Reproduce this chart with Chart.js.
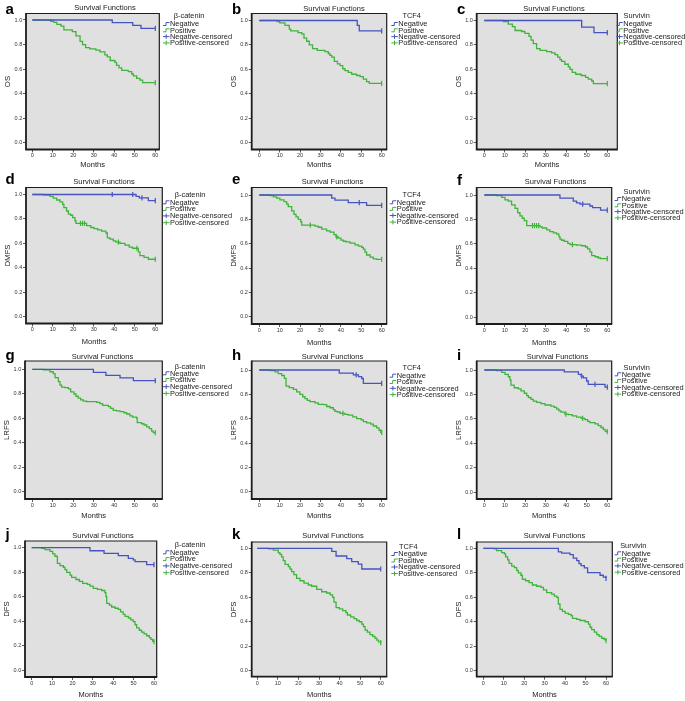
<!DOCTYPE html>
<html><head><meta charset="utf-8">
<script src="https://cdn.jsdelivr.net/npm/chart.js@4"></script>
<style>
html,body{margin:0;padding:0;background:#fff;width:685px;height:701px;overflow:hidden}
canvas{position:absolute;left:0;top:0}
</style></head>
<body>
<script>
// ---------- labels ----------
const monthTicks = [0,10,20,30,40,50,60];
const survTicks = [0,0.2,0.4,0.6,0.8,1.0];
const markers = ['β-catenin','TCF4','Survivin'];
const endpoints = ['OS','DMFS','LRFS','DFS'];
const seriesNames = ['Negative','Positive','Negative-censored','Positive-censored'];
const panelLetters = ['a','b','c','d','e','f','g','h','i','j','k','l'];
const chartTitle = 'Survival Functions';
const xTitle = 'Months';

// ---------- data: [month, survival] ----------
const a_neg = [[0,1],[39,0.978],[49,0.957],[53,0.932],[60,0.932]];
const a_pos = [[0,1],[9,0.99],[10.5,0.98],[12,0.965],[14,0.95],[15.4,0.92],[19.5,0.905],[21.3,0.87],[23.3,0.825],[24.5,0.8],[26,0.775],[28,0.765],[31,0.755],[33,0.74],[35.4,0.715],[36.6,0.7],[38,0.67],[40.3,0.655],[41.1,0.63],[42.3,0.61],[43.6,0.59],[46.8,0.58],[48.5,0.56],[49.3,0.545],[50.9,0.525],[52.5,0.51],[53.8,0.49],[60,0.49]];
const a_negC = [[60,0.932]];
const a_posC = [[60,0.49]];

const b_neg = [[0,1],[48,0.96],[49,0.915],[60,0.915]];
const b_pos = [[0,1],[8.8,0.99],[10,0.98],[12.6,0.96],[14.7,0.93],[15.4,0.915],[19,0.9],[20.8,0.89],[21.9,0.855],[23.2,0.83],[24.5,0.8],[26.1,0.77],[28.4,0.755],[32.2,0.745],[33.8,0.73],[34.6,0.715],[35.5,0.7],[36.8,0.665],[38.3,0.645],[39.6,0.63],[40.9,0.605],[42,0.59],[43.6,0.575],[45.3,0.56],[47.7,0.55],[49.4,0.54],[51,0.52],[52.6,0.5],[53.9,0.486],[60,0.486]];
const b_negC = [[60,0.915]];
const b_posC = [[60,0.486]];

const c_neg = [[0,1],[47.5,0.945],[53.5,0.9],[60,0.9]];
const c_pos = [[0,1],[9.3,0.99],[11.7,0.97],[13.7,0.95],[15,0.918],[18.2,0.91],[19.8,0.895],[21.8,0.87],[22.8,0.84],[23.9,0.81],[25.5,0.77],[27.2,0.755],[30.4,0.745],[32.8,0.735],[34.5,0.72],[35.8,0.7],[36.9,0.68],[37.7,0.665],[39.3,0.642],[41,0.62],[41.8,0.6],[42.9,0.575],[44.6,0.56],[47.2,0.55],[49.4,0.535],[50.7,0.52],[52.4,0.505],[53.2,0.483],[60,0.483]];
const c_negC = [[60,0.9]];
const c_posC = [[60,0.483]];

const d_neg = [[0,1],[50.6,0.985],[52.2,0.972],[56.6,0.95],[60,0.95]];
const d_pos = [[0,1],[5.4,0.995],[8.6,0.985],[10.2,0.97],[11.9,0.955],[13.5,0.94],[14.8,0.92],[15.4,0.893],[16.7,0.865],[17.6,0.84],[18.7,0.83],[19.7,0.81],[20.8,0.785],[21.3,0.763],[26.5,0.745],[28.5,0.73],[30.1,0.72],[31.9,0.71],[33.8,0.7],[35.9,0.685],[36.6,0.645],[37.9,0.635],[39.5,0.62],[40.8,0.61],[42.8,0.6],[45.2,0.585],[47.3,0.57],[48.9,0.56],[51.7,0.53],[52.5,0.5],[54.5,0.485],[56.6,0.47],[60,0.47]];
const d_negC = [[39,1],[49,1],[53.5,0.972],[60,0.95]];
const d_posC = [[23.5,0.763],[24.5,0.763],[25.5,0.763],[42,0.61],[51,0.56],[60,0.47]];

const e_neg = [[0,1],[35.5,0.975],[37.1,0.958],[43.6,0.937],[52.6,0.915],[60,0.915]];
const e_pos = [[0,1],[5.2,0.995],[6.9,0.985],[8.5,0.975],[10.1,0.96],[12.1,0.945],[13.4,0.925],[14.2,0.905],[15.9,0.87],[17,0.841],[18,0.82],[19.1,0.8],[20.3,0.78],[20.8,0.753],[27.3,0.745],[28.9,0.735],[30.6,0.72],[33,0.705],[34.7,0.695],[36.6,0.675],[37.6,0.655],[38.8,0.645],[40,0.63],[41.2,0.62],[42.5,0.615],[44.5,0.605],[46.9,0.59],[48.6,0.58],[50.2,0.57],[51,0.555],[51.8,0.53],[52.6,0.507],[54.3,0.49],[55.9,0.475],[57.5,0.471],[60,0.471]];
const e_negC = [[49,0.937],[60,0.915]];
const e_posC = [[25,0.753],[38,0.655],[60,0.471]];

const f_neg = [[0,1],[36.9,0.975],[43.4,0.95],[45,0.935],[46.7,0.925],[51.5,0.91],[52.8,0.896],[56.7,0.877],[60,0.877]];
const f_pos = [[0,1],[6,0.995],[8.5,0.98],[10.1,0.96],[11.7,0.95],[13.3,0.92],[15,0.891],[16.3,0.855],[17.4,0.83],[18.5,0.81],[19.5,0.79],[20.7,0.749],[27.2,0.74],[28.3,0.73],[30.4,0.715],[32,0.7],[33.7,0.69],[35.3,0.68],[36.4,0.66],[36.9,0.64],[37.7,0.63],[39,0.62],[40.7,0.605],[41.8,0.594],[45,0.59],[47.5,0.585],[49.4,0.575],[50.4,0.56],[51.5,0.535],[52.4,0.505],[54,0.495],[55.6,0.485],[56.8,0.48],[60,0.48]];
const f_negC = [[48,0.925],[60,0.877]];
const f_posC = [[23.5,0.749],[24.5,0.749],[25.5,0.749],[26.5,0.749],[43,0.594],[60,0.48]];

const g_neg = [[0,1],[29.8,0.975],[35.9,0.95],[42.8,0.93],[49.3,0.907],[60,0.907]];
const g_pos = [[0,1],[5.4,0.995],[8.6,0.98],[10.2,0.965],[11.1,0.932],[12.7,0.9],[13.5,0.87],[14.3,0.855],[15.9,0.85],[17.6,0.84],[18.7,0.815],[20.3,0.798],[21.3,0.78],[22.4,0.765],[23.6,0.75],[24.9,0.74],[26.5,0.736],[31.4,0.73],[33,0.72],[34.3,0.706],[37.1,0.695],[38.2,0.68],[39.5,0.665],[41.1,0.66],[42.8,0.655],[44.7,0.645],[46,0.635],[47.6,0.62],[48.9,0.61],[50.9,0.6],[51.2,0.564],[53.3,0.555],[54.5,0.545],[55.8,0.53],[57.1,0.515],[58.2,0.495],[59,0.482],[60,0.482]];
const g_negC = [[60,0.907]];
const g_posC = [[60,0.482]];

const h_neg = [[0,1],[39.2,0.975],[46.1,0.96],[48.6,0.945],[50.2,0.93],[51,0.89],[60,0.89]];
const h_pos = [[0,1],[5.2,0.995],[7.7,0.985],[9.3,0.97],[11,0.955],[12.3,0.932],[13.1,0.868],[14.7,0.855],[16.7,0.84],[18.3,0.82],[19.9,0.8],[21.3,0.78],[22.4,0.765],[23.5,0.75],[24.8,0.74],[27.3,0.73],[28.9,0.718],[31.4,0.715],[33,0.7],[34.7,0.69],[36.3,0.675],[37.1,0.66],[38.3,0.655],[39.6,0.644],[42,0.635],[43.6,0.63],[45.8,0.615],[47.7,0.6],[49.9,0.59],[51,0.575],[52.6,0.565],[54.6,0.555],[55.9,0.54],[57.5,0.525],[58.7,0.505],[59.5,0.488],[60,0.488]];
const h_negC = [[47.5,0.96],[60,0.89]];
const h_posC = [[41,0.644],[60,0.488]];

const i_neg = [[0,1],[39,0.985],[45.9,0.965],[47.2,0.95],[48.3,0.935],[49.9,0.91],[50.7,0.883],[58.9,0.86],[60,0.86]];
const i_pos = [[0,1],[6,0.995],[8.5,0.98],[10.1,0.965],[11.7,0.945],[12.5,0.92],[13,0.877],[14.6,0.855],[16.6,0.845],[17.9,0.83],[19.5,0.81],[20.7,0.79],[21.5,0.775],[22.8,0.76],[23.9,0.745],[25.5,0.735],[27.6,0.725],[29.6,0.714],[32.5,0.705],[34.1,0.695],[35.3,0.68],[36.4,0.665],[37.4,0.655],[39.3,0.64],[41,0.635],[42.9,0.625],[45,0.615],[47.2,0.605],[49.1,0.595],[50.4,0.58],[51.5,0.57],[54,0.56],[55.6,0.545],[56.9,0.53],[58,0.515],[58.9,0.5],[59.5,0.496],[60,0.496]];
const i_negC = [[47.5,0.95],[54,0.883],[60,0.86]];
const i_posC = [[39.8,0.64],[48,0.605],[60,0.496]];

const j_neg = [[0,1],[28.6,0.975],[35.5,0.954],[42.5,0.935],[47.4,0.913],[49.8,0.9],[50.7,0.886],[56.4,0.862],[60,0.862]];
const j_pos = [[0,1],[4.9,0.995],[6.5,0.985],[9,0.97],[10.3,0.95],[11.4,0.93],[12.6,0.872],[13.9,0.853],[15.5,0.84],[16.3,0.82],[17.2,0.798],[18.8,0.775],[19.6,0.757],[21.7,0.74],[23.4,0.725],[25,0.708],[27.3,0.7],[28.6,0.685],[30.2,0.668],[32.2,0.66],[34.3,0.65],[35.9,0.632],[36.4,0.6],[36.8,0.545],[38.1,0.53],[39.2,0.515],[40.9,0.505],[42.5,0.495],[43.6,0.475],[44.9,0.455],[45.8,0.439],[47.4,0.425],[48.6,0.41],[49.8,0.395],[50.7,0.37],[51.5,0.345],[52.8,0.325],[53.9,0.31],[55.1,0.295],[56.4,0.28],[57.7,0.265],[58.5,0.25],[59.3,0.235],[60,0.232]];
const j_negC = [[60,0.862]];
const j_posC = [[60,0.232]];

const k_neg = [[0,1],[36.2,0.975],[38.3,0.937],[43.5,0.915],[45.9,0.891],[49.1,0.87],[50.8,0.831],[60,0.831]];
const k_pos = [[0,1],[5.4,0.995],[7.8,0.985],[10.2,0.965],[11,0.95],[11.8,0.93],[12.6,0.9],[13.5,0.869],[15.1,0.85],[15.9,0.83],[16.7,0.81],[17.8,0.785],[19.1,0.755],[20.8,0.735],[22.7,0.715],[24.8,0.7],[26.4,0.69],[28.9,0.665],[31.3,0.645],[33.7,0.635],[35.4,0.62],[36.6,0.599],[37.3,0.56],[38.3,0.515],[39.9,0.505],[41.5,0.49],[43.1,0.475],[43.8,0.455],[45.4,0.44],[47,0.425],[48.3,0.41],[49.6,0.4],[50.8,0.38],[51.6,0.36],[52.4,0.332],[53.5,0.315],[54.8,0.295],[56.1,0.28],[57.2,0.265],[58.1,0.25],[58.9,0.235],[60,0.229]];
const k_negC = [[60,0.831]];
const k_posC = [[60,0.229]];

const l_neg = [[0,1],[36.7,0.97],[38.3,0.96],[42.4,0.948],[44,0.92],[45.7,0.899],[46.8,0.875],[47.8,0.858],[49.4,0.84],[51,0.801],[57.1,0.78],[58.7,0.765],[60,0.755]];
const l_pos = [[0,1],[5.4,0.995],[6.5,0.981],[9,0.965],[10.3,0.955],[10.9,0.93],[11.9,0.905],[12.6,0.877],[13.9,0.855],[15.2,0.842],[16.3,0.82],[17.1,0.8],[18.4,0.78],[19.1,0.747],[20.7,0.735],[22.4,0.72],[24,0.7],[26.1,0.69],[28.2,0.681],[29.4,0.66],[31,0.638],[33.4,0.625],[34.7,0.61],[35.9,0.599],[36.7,0.545],[37.5,0.501],[38.7,0.485],[40,0.47],[41.6,0.46],[42.9,0.45],[43.6,0.428],[45.7,0.42],[47.3,0.41],[49.8,0.4],[51.4,0.38],[52.2,0.355],[53,0.335],[54.3,0.315],[55.5,0.295],[56.6,0.28],[57.9,0.265],[59.1,0.255],[60,0.245]];
const l_negC = [[60,0.755]];
const l_posC = [[60,0.245]];

// panel content (row = endpoint, col = marker)
const panelSeries = [
  [a_neg,a_pos,a_negC,a_posC],[b_neg,b_pos,b_negC,b_posC],[c_neg,c_pos,c_negC,c_posC],
  [d_neg,d_pos,d_negC,d_posC],[e_neg,e_pos,e_negC,e_posC],[f_neg,f_pos,f_negC,f_posC],
  [g_neg,g_pos,g_negC,g_posC],[h_neg,h_pos,h_negC,h_posC],[i_neg,i_pos,i_negC,i_posC],
  [j_neg,j_pos,j_negC,j_posC],[k_neg,k_pos,k_negC,k_posC],[l_neg,l_pos,l_negC,l_posC]
];

// ---------- layout (page pixels) ----------
// plot box L,T,R,B ; pixel of month 0 & 60 ; pixel of survival 1.0 & 0.0
const boxes = [
  [26,13.5,159.3,149.5, 32.3,155.3, 20,142.7],
  [251.7,13.5,386.7,149.5, 259.3,381.7, 20.5,142.7],
  [476.7,13.5,617.3,149.5, 484.3,607.3, 20.5,142.7],
  [26,187.5,162.3,323.5, 32.3,155.3, 194.5,316.7],
  [251.7,187.5,386.7,324, 259.3,381.7, 195,316.7],
  [476.7,187.5,611.7,324, 484.3,607.3, 195,317.3],
  [25,361,162.3,499, 32.3,155.3, 369.3,491.7],
  [251.7,361,386.7,499, 259.3,381.7, 370,491.7],
  [476.7,361,611.7,499, 484.3,607.3, 370,492.3],
  [25,541,156.7,677, 31.7,154, 547.7,670],
  [251.7,542,386.7,676.7, 257.3,380.7, 548.3,670.7],
  [476.7,542,612.3,676.7, 483.3,606, 548.3,670.7]
];
// title centre x,y ; letter x, baseline ; months offset below box
const titlePos = [[105,8],[334,8.5],[554,8.5],[104,182],[332.5,182],[555.5,182],[102.5,356.5],[332.5,356.5],[557.5,356.5],[103,535.5],[333,536],[554.5,536]];
const letterPos = [[5.5,14],[232,14],[457,14],[5.5,183.5],[232,183.5],[457,184.5],[5.5,360],[232,360],[457,360],[5.5,539],[232,538.5],[457,538.5]];
const monthsOff = [15.5,15.5,15.5,18.8,18.8,18.8,17,17,17,18.3,18.3,18.3];
// legend: header centre x,y ; item text x, first item y, spacing
const legendPos = [
  [189,16,170,24,6.3],[411.7,16,398.3,24,6.3],[636.7,16,623.3,24,6.3],
  [190,195,170,202.3,6.8],[411.7,195,396.7,202.3,6.6],[636.7,192.3,621.7,199,6.3],
  [190,366.7,170,373.3,6.7],[411.7,367.7,396.7,375.7,6.3],[636.7,367.7,621.7,374.3,6.6],
  [190,545,170,552.3,6.8],[408.3,546.7,398.3,554,6.5],[633.3,546,621.7,553.3,6.3]
];

const BLUE = '#4653c0';
const GREEN = '#3fb43a';
const FONT = "'Liberation Sans', Arial, Helvetica, sans-serif";
const YW = 23, XH = 24, W = 685, H = 701;
Chart.defaults.font.family = FONT;

const decor = {
  id: 'decor',
  beforeDraw(chart) {
    const {ctx, chartArea: ca} = chart;
    ctx.save();
    ctx.fillStyle = '#e0e0e0';
    ctx.fillRect(ca.left, ca.top, ca.right - ca.left, ca.bottom - ca.top);
    ctx.restore();
  },
  afterDraw(chart, args, o) {
    const {ctx, chartArea: ca} = chart;
    ctx.save();
    // frame
    ctx.strokeStyle = '#1c1c1c';
    ctx.lineWidth = 1.2;
    ctx.beginPath();
    ctx.moveTo(ca.left, ca.top); ctx.lineTo(ca.right, ca.top); ctx.lineTo(ca.right, ca.bottom);
    ctx.stroke();
    ctx.lineWidth = 1.8;
    ctx.beginPath();
    ctx.moveTo(ca.left, ca.top - 0.5); ctx.lineTo(ca.left, ca.bottom); ctx.lineTo(ca.right + 0.5, ca.bottom);
    ctx.stroke();
    // title
    ctx.fillStyle = '#1a1a1a';
    ctx.textBaseline = 'middle';
    ctx.textAlign = 'center';
    ctx.font = '7.5px ' + FONT;
    ctx.fillText(o.title, o.tx, o.ty);
    // letter
    ctx.textAlign = 'left';
    ctx.textBaseline = 'alphabetic';
    ctx.font = 'bold 15px ' + FONT;
    ctx.fillStyle = '#000';
    ctx.fillText(o.letter, o.lx, o.ly);
    // legend
    const [hx, hy, ix, iy, dy] = o.leg;
    ctx.fillStyle = '#1a1a1a';
    ctx.font = '7.4px ' + FONT;
    ctx.textBaseline = 'middle';
    ctx.textAlign = 'center';
    ctx.fillText(o.marker, hx, hy);
    ctx.textAlign = 'left';
    o.names.forEach((nm, k) => {
      const y = iy + k * dy;
      const col = (k % 2 === 0) ? BLUE : GREEN;
      ctx.strokeStyle = col;
      ctx.lineWidth = 1;
      ctx.beginPath();
      if (k < 2) {
        ctx.moveTo(ix - 7, y + 1.5); ctx.lineTo(ix - 4, y + 1.5); ctx.lineTo(ix - 4, y - 1.5); ctx.lineTo(ix - 0.5, y - 1.5);
      } else {
        ctx.moveTo(ix - 7, y); ctx.lineTo(ix - 0.5, y);
        ctx.moveTo(ix - 3.8, y - 2.3); ctx.lineTo(ix - 3.8, y + 2.3);
      }
      ctx.stroke();
      ctx.fillStyle = '#1a1a1a';
      ctx.fillText(nm, ix, y + 0.3);
    });
    ctx.restore();
  }
};

const toXY = arr => arr.map(([x, y]) => ({x, y}));

panelSeries.forEach((ser, p) => {
  const row = Math.floor(p / 3), col = p % 3;
  const [L, T, R, B, x0, x60, y1, y0] = boxes[p];
  const pxPerMonth = (x60 - x0) / 60;
  const pxPerUnit = (y0 - y1);
  const xmin = -(x0 - L) / pxPerMonth;
  const xmax = 60 + (R - x60) / pxPerMonth;
  const ymax = 1 + (y1 - T) / pxPerUnit;
  const ymin = -(B - y0) / pxPerUnit;
  const titleFontLH = 7.5 * 1.2;
  const monthsPad = Math.max(0, XH - monthsOff[p] - titleFontLH / 2);

  const cv = document.createElement('canvas');
  cv.width = W; cv.height = H;
  cv.style.width = W + 'px'; cv.style.height = H + 'px';
  document.body.appendChild(cv);

  const lineDs = (name, data, color) => ({
    label: name, data: toXY(data), borderColor: color, backgroundColor: color,
    borderWidth: 1.3, stepped: 'before', pointRadius: 0, fill: false, tension: 0
  });
  const censDs = (name, data, color) => ({
    type: 'scatter', label: name, data: toXY(data), borderColor: color, backgroundColor: color,
    pointStyle: 'line', rotation: 90, pointRadius: 2.6, pointBorderWidth: 1.2, showLine: false
  });

  new Chart(cv, {
    type: 'line',
    data: {
      datasets: [
        lineDs(seriesNames[0], ser[0], BLUE),
        lineDs(seriesNames[1], ser[1], GREEN),
        censDs(seriesNames[2], ser[2], BLUE),
        censDs(seriesNames[3], ser[3], GREEN)
      ]
    },
    options: {
      responsive: false, animation: false, devicePixelRatio: 1,
      events: [],
      layout: { padding: { left: L - YW, top: T, right: W - R, bottom: Math.max(0, H - B - XH) } },
      plugins: {
        legend: { display: false },
        tooltip: { enabled: false },
        decor: {
          title: chartTitle, tx: titlePos[p][0], ty: titlePos[p][1],
          letter: panelLetters[p], lx: letterPos[p][0], ly: letterPos[p][1],
          marker: markers[col], names: seriesNames, leg: legendPos[p]
        }
      },
      scales: {
        x: {
          type: 'linear', min: xmin, max: xmax,
          afterFit(s) { s.height = XH; },
          afterBuildTicks(s) { s.ticks = monthTicks.map(v => ({value: v})); },
          ticks: { font: { size: 5.5 }, color: '#333', padding: 0, maxRotation: 0, autoSkip: false,
                   callback: v => String(v) },
          grid: { drawOnChartArea: false, drawTicks: true, tickLength: 3, color: '#333', lineWidth: 0.8 },
          border: { display: false },
          title: { display: true, text: xTitle, font: { size: 7.5 }, color: '#1a1a1a',
                   padding: { top: 0, bottom: monthsPad } }
        },
        y: {
          type: 'linear', min: ymin, max: ymax,
          afterFit(s) { s.width = YW; },
          afterBuildTicks(s) { s.ticks = survTicks.map(v => ({value: v})); },
          ticks: { font: { size: 5.5 }, color: '#333', padding: 0.8, autoSkip: false,
                   callback: v => Number(v).toFixed(1) },
          grid: { drawOnChartArea: false, drawTicks: true, tickLength: 3, color: '#333', lineWidth: 0.8 },
          border: { display: false },
          title: { display: true, text: endpoints[row], font: { size: 7.8 }, color: '#1a1a1a',
                   padding: { top: 0, bottom: 0 } }
        }
      }
    },
    plugins: [decor]
  });
});
</script>
</body></html>
